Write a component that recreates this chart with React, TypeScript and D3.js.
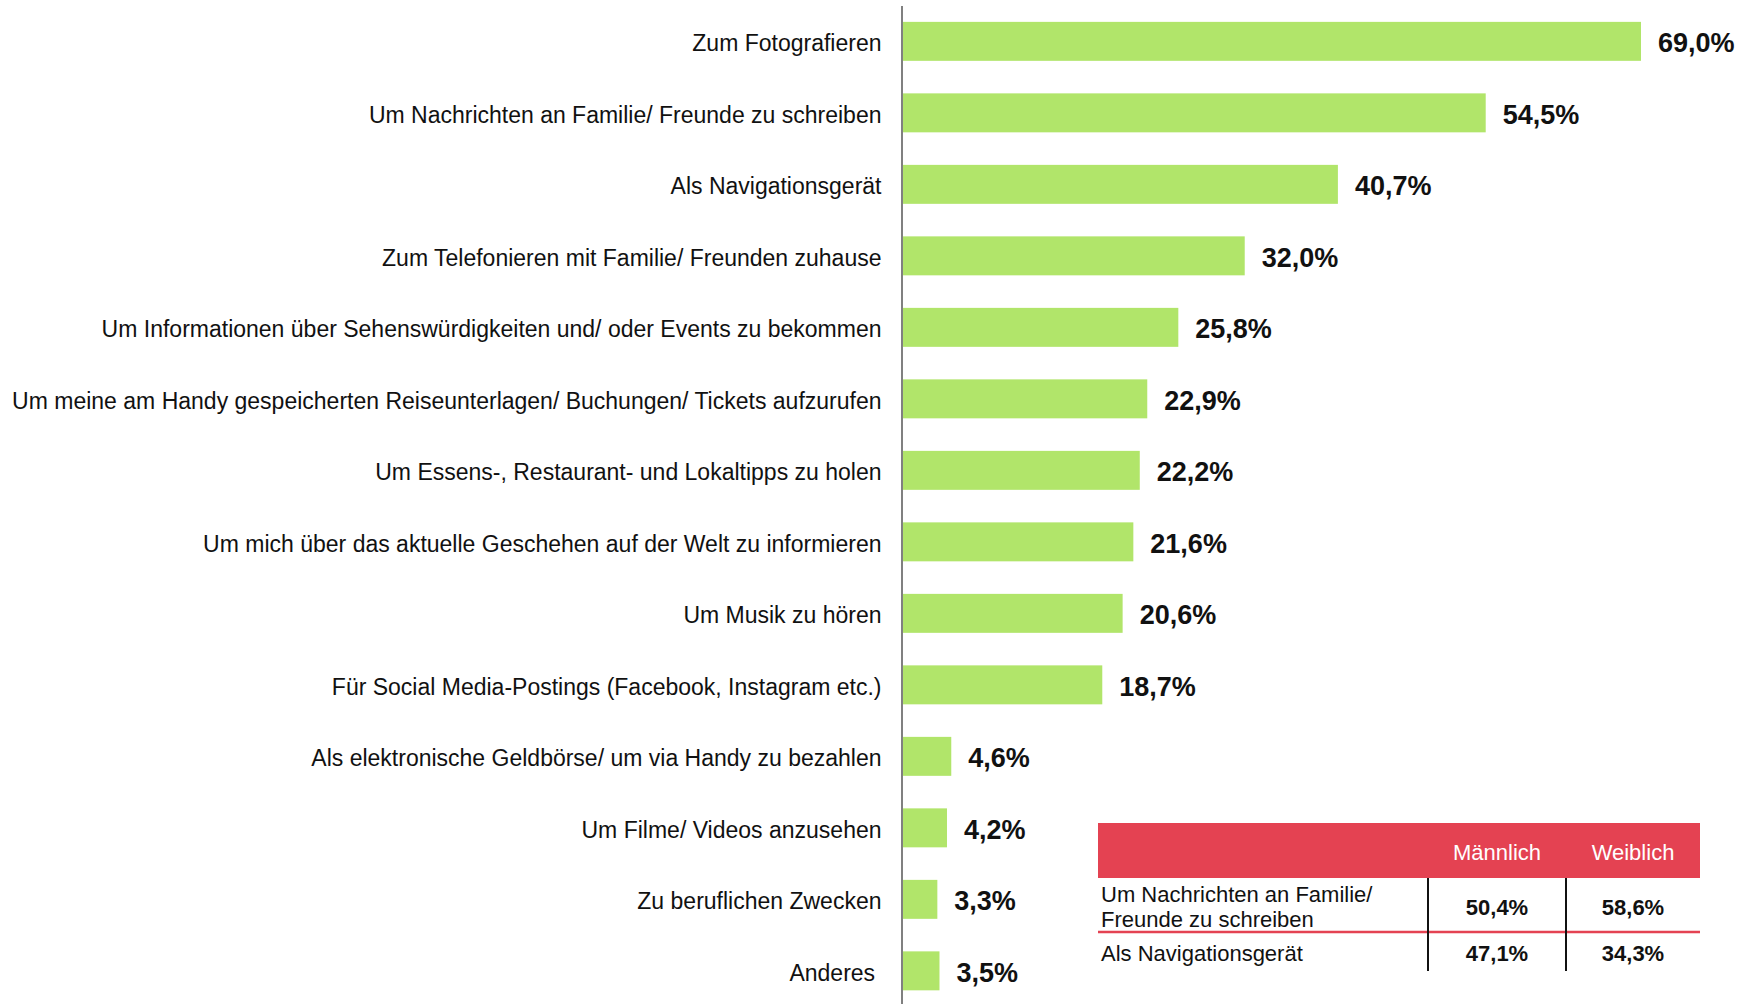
import React from "react";
import * as d3 from "d3";

const categories = [
  "Zum Fotografieren",
  "Um Nachrichten an Familie/ Freunde zu schreiben",
  "Als Navigationsgerät",
  "Zum Telefonieren mit Familie/ Freunden zuhause",
  "Um Informationen über Sehenswürdigkeiten und/ oder Events zu bekommen",
  "Um meine am Handy gespeicherten Reiseunterlagen/ Buchungen/ Tickets aufzurufen",
  "Um Essens-, Restaurant- und Lokaltipps zu holen",
  "Um mich über das aktuelle Geschehen auf der Welt zu informieren",
  "Um Musik zu hören",
  "Für Social Media-Postings (Facebook, Instagram etc.)",
  "Als elektronische Geldbörse/ um via Handy zu bezahlen",
  "Um Filme/ Videos anzusehen",
  "Zu beruflichen Zwecken",
  "Anderes ",
];
const values = [69.0, 54.5, 40.7, 32.0, 25.8, 22.9, 22.2, 21.6, 20.6, 18.7, 4.6, 4.2, 3.3, 3.5];

const tableColumns = ["Männlich", "Weiblich"];
const tableRows = [
  ["Um Nachrichten an Familie/", "Freunde zu schreiben"],
  ["Als Navigationsgerät"],
];
const maleValues = [50.4, 47.1];
const femaleValues = [58.6, 34.3];

const fmt = (v: number) => v.toFixed(1).replace(".", ",") + "%";

const W = 1754;
const H = 1004;
const FONT = "'Liberation Sans', Arial, Helvetica, sans-serif";
const GREEN = "#b1e56a";
const RED = "#e44252";

export default function App() {
  const x = d3.scaleLinear().domain([0, 69]).range([902, 1641]);
  const y = d3
    .scaleBand<string>()
    .domain(categories)
    .range([5.6, 5.6 + 71.5 * 14])
    .paddingInner(0.455)
    .paddingOuter(0.2275);

  // table layout
  const tX0 = 1098;
  const tX1 = 1700;
  const col1 = 1428;
  const col2 = 1566;
  const headY0 = 823;
  const headY1 = 878;
  const sepY = 932;
  const bottomY = 971;
  const colCenters = [(col1 + col2) / 2, (col2 + tX1) / 2];
  const rowCenters = [907, 953];

  return (
    <svg
      width={W}
      height={H}
      style={{ position: "absolute", left: 0, top: 0, background: "#fff" }}
      fontFamily={FONT}
    >
      <rect x={0} y={0} width={W} height={H} fill="#fff" />
      {categories.map((c, i) => {
        const yc = (y(c) as number) + y.bandwidth() / 2;
        return (
          <g key={c}>
            <rect
              x={x(0)}
              y={y(c)}
              width={x(values[i]) - x(0)}
              height={y.bandwidth()}
              fill={GREEN}
            />
            <text
              x={881.5}
              y={yc + 2}
              textAnchor="end"
              dominantBaseline="central"
              fontSize={23}
              fill="#111"
              style={{ whiteSpace: "pre" }}
            >
              {c}
            </text>
            <text
              x={x(values[i]) + 17}
              y={yc + 2}
              dominantBaseline="central"
              fontSize={27}
              fontWeight="bold"
              fill="#111"
            >
              {fmt(values[i])}
            </text>
          </g>
        );
      })}
      <line x1={902} x2={902} y1={6} y2={H} stroke="#808080" strokeWidth={2} />

      {/* table */}
      <rect x={tX0} y={headY0} width={tX1 - tX0} height={headY1 - headY0} fill={RED} />
      {tableColumns.map((c, i) => (
        <text
          key={c}
          x={colCenters[i]}
          y={(headY0 + headY1) / 2 + 2}
          textAnchor="middle"
          dominantBaseline="central"
          fontSize={22}
          fill="#fff"
        >
          {c}
        </text>
      ))}
      <line x1={tX0} x2={tX1} y1={sepY} y2={sepY} stroke={RED} strokeWidth={2.5} />
      <line x1={col1} x2={col1} y1={headY1} y2={bottomY} stroke="#111" strokeWidth={2} />
      <line x1={col2} x2={col2} y1={headY1} y2={bottomY} stroke="#111" strokeWidth={2} />
      {tableRows.map((lines, r) => (
        <g key={r}>
          {lines.map((l, k) => (
            <text
              key={k}
              x={tX0 + 3}
              y={rowCenters[r] + (k - (lines.length - 1) / 2) * 25}
              dominantBaseline="central"
              fontSize={22}
              fill="#111"
            >
              {l}
            </text>
          ))}
          <text
            x={colCenters[0]}
            y={rowCenters[r]}
            textAnchor="middle"
            dominantBaseline="central"
            fontSize={22}
            fontWeight="bold"
            fill="#111"
          >
            {fmt(maleValues[r])}
          </text>
          <text
            x={colCenters[1]}
            y={rowCenters[r]}
            textAnchor="middle"
            dominantBaseline="central"
            fontSize={22}
            fontWeight="bold"
            fill="#111"
          >
            {fmt(femaleValues[r])}
          </text>
        </g>
      ))}
    </svg>
  );
}
